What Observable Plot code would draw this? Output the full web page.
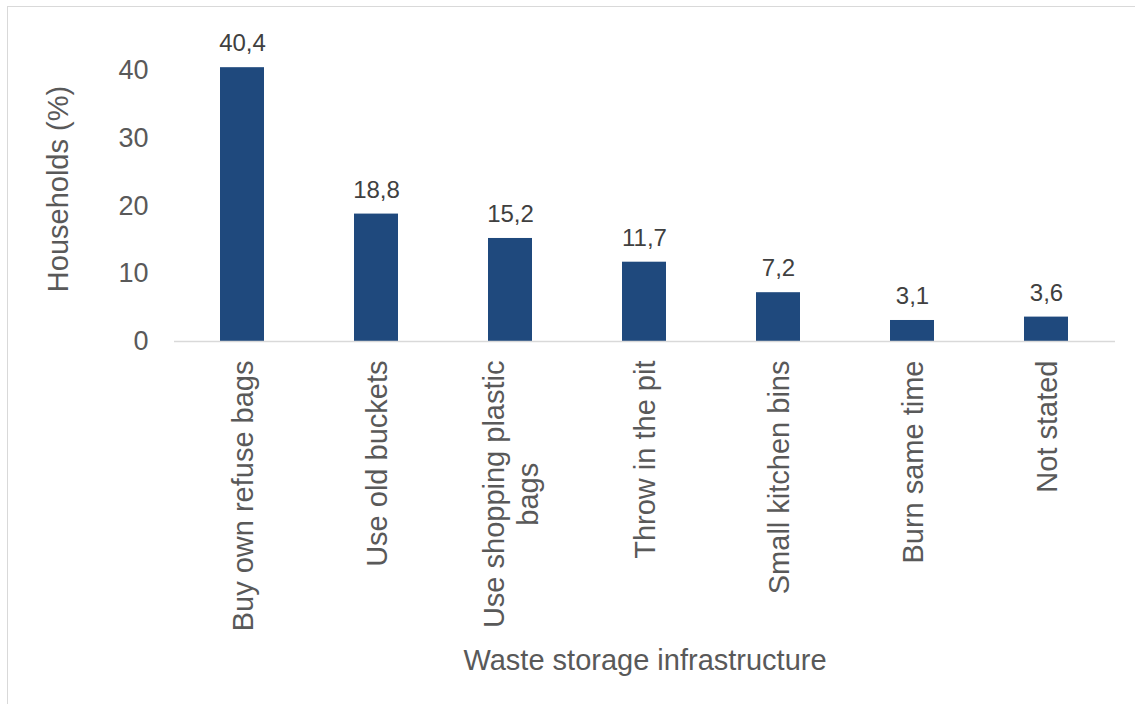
<!DOCTYPE html>
<html>
<head>
<meta charset="utf-8">
<script src="https://cdn.jsdelivr.net/npm/d3@7"></script>
<script src="https://cdn.jsdelivr.net/npm/@observablehq/plot@0.6"></script>
<style>
  html, body { margin: 0; padding: 0; background: #fff; overflow: hidden; }
  #frame { position: absolute; left: 7px; top: 6px; width: 1200px; height: 800px; border: 1px solid #d9d9d9; box-sizing: border-box; }
  #chart { position: absolute; left: 0; top: 0; }
</style>
</head>
<body>
<div id="frame"></div>
<div id="chart"></div>
<script>
const categories = ["Buy own refuse bags", "Use old buckets", "Use shopping plastic bags", "Throw in the pit", "Small kitchen bins", "Burn same time", "Not stated"];
const tickLabels = ["Buy own refuse bags", "Use old buckets", "Use shopping plastic\nbags", "Throw in the pit", "Small kitchen bins", "Burn same time", "Not stated"];
const values = [40.4, 18.8, 15.2, 11.7, 7.2, 3.1, 3.6];
const yTicks = [0, 10, 20, 30, 40];
const yTitle = "Households (%)";
const xTitle = "Waste storage infrastructure";

const data = categories.map((c, i) => ({category: c, value: values[i]}));
const fmt = v => d3.format(".1f")(v).replace(".", ",");
const font = "'Liberation Sans', Arial, sans-serif";

const chart = Plot.plot({
  width: 1135,
  height: 704,
  marginLeft: 174,
  marginRight: 20,
  marginTop: 36,
  marginBottom: 363,
  style: {fontFamily: font, color: "#595959", background: "transparent", overflow: "visible"},
  x: {domain: categories, paddingInner: 0.67, paddingOuter: 0.335},
  y: {domain: [0, 45]},
  marks: [
    Plot.barY(data, {x: "category", y: "value", fill: "#1f497d"}),
    Plot.ruleY([0], {stroke: "#d9d9d9", strokeWidth: 1.5}),
    Plot.text(data, {x: "category", y: "value", text: d => fmt(d.value), lineAnchor: "middle", dy: -24, fontSize: 24, fill: "#404040"}),
    Plot.axisY({ticks: yTicks, tickSize: 0, tickPadding: 26, fontSize: 27, label: null}),
    Plot.axisX({tickSize: 0, tickPadding: 19, tickRotate: -90, fontSize: 29, lineHeight: 1.17, label: null,
      tickFormat: d => tickLabels[categories.indexOf(d)]}),
    Plot.text([yTitle], {frameAnchor: "left", rotate: -90, textAnchor: "middle", lineAnchor: "top", dx: -127, fontSize: 29, fill: "#595959"}),
    Plot.text([xTitle], {frameAnchor: "bottom", lineAnchor: "middle", dy: 319, fontSize: 29, fill: "#595959"})
  ]
});
document.getElementById("chart").appendChild(chart);

// center wrapped lines of rotated tick labels along the text direction
chart.querySelectorAll("g[aria-label='x-axis tick label'] text").forEach(t => {
  const spans = t.querySelectorAll("tspan");
  if (spans.length > 1) {
    const first = spans[0].getComputedTextLength();
    for (let i = 1; i < spans.length; i++) {
      const len = spans[i].getComputedTextLength();
      spans[i].setAttribute("x", -first / 2 + len / 2);
    }
  }
});
</script>
</body>
</html>
